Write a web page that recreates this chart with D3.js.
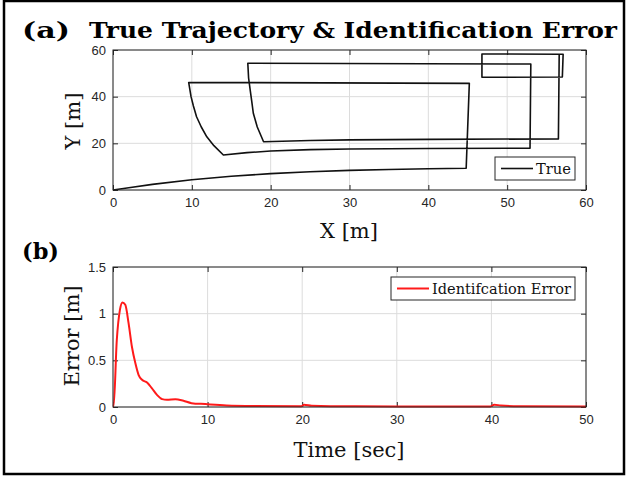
<!DOCTYPE html>
<html><head><meta charset="utf-8">
<script src="https://cdn.jsdelivr.net/npm/d3@7"></script>
<style>body{margin:0;background:#fff}svg{display:block}</style>
</head><body>
<script>
// ---- data ----
const trajX = [0,2,5,10,15,20,25,30,35,40,44.8, 45.2, 9.6, 9.9,10.2,10.6,11.2,11.9,12.8,14, 17,20,25,30,40,52.9, 53.0, 17.1,17.2,17.4,17.6,17.8,18.3,19.1, 25,30,40,56.5, 56.6, 46.8,46.8,57.0,57.1,56.6];
const trajY = [0,1,2.4,4.4,5.9,7.0,7.8,8.4,8.8,9.1,9.3, 45.7, 46.1, 40,36,31.4,27,22.8,19,15, 16.0,16.7,17.3,17.6,17.8,17.9, 54.0, 54.3,48,42.9,38,32.9,27,20.7, 21.2,21.5,21.7,21.9, 58.2, 58.3,48.3,48.4,58.2,58.2];
const errT = [0,0.06,0.4,0.74,1.0,1.3,1.65,2.0,2.36,2.7,3.07,3.6,4.1,4.65,5.2,5.7,6.6,7.45,8.3,9.76,12,15,19.9,20.2,21,23,30,39.9,40.3,41,43,50];
const errV = [0,0,0.71,1.04,1.115,1.09,0.89,0.64,0.465,0.34,0.286,0.257,0.197,0.125,0.079,0.072,0.079,0.061,0.036,0.026,0.012,0.005,0.002,0.02,0.008,0.003,0.001,0.001,0.02,0.01,0.003,0];
const xTicksA = [0,10,20,30,40,50,60];
const yTicksA = [0,20,40,60];
const xTicksB = [0,10,20,30,40,50];
const yTicksB = [0,0.5,1,1.5];
const yTickLabelsB = ["0","0.5","1","1.5"];

const W=627,H=477;
const svg=d3.select("body").append("svg").attr("width",W).attr("height",H);
svg.append("rect").attr("width",W).attr("height",H).attr("fill","#fff");
svg.append("rect").attr("x",4).attr("y",1).attr("width",620).attr("height",473)
  .attr("fill","none").attr("stroke","#000").attr("stroke-width",2.5);

const serif="'DejaVu Serif','Liberation Serif',serif";
const sans="'Liberation Sans',Arial,sans-serif";
const axCol="#262626";

svg.append("text").attr("x",22).attr("y",38).attr("font-family",serif).attr("font-weight","bold")
  .attr("font-size",23).attr("textLength",48).attr("lengthAdjust","spacingAndGlyphs").text("(a)");
svg.append("text").attr("x",89).attr("y",38).attr("font-family",serif).attr("font-weight","bold")
  .attr("font-size",23).attr("textLength",528).attr("lengthAdjust","spacingAndGlyphs")
  .text("True Trajectory & Identification Error");
svg.append("text").attr("x",22).attr("y",259).attr("font-family",serif).attr("font-weight","bold")
  .attr("font-size",23).attr("textLength",37).attr("lengthAdjust","spacingAndGlyphs").text("(b)");

function panel(x0,x1,y0,y1,xDom,yDom,xT,yT,yLab){
  const x=d3.scaleLinear().domain(xDom).range([x0,x1]);
  const y=d3.scaleLinear().domain(yDom).range([y1,y0]);
  const g=svg.append("g");
  g.append("rect").attr("x",x0).attr("y",y0).attr("width",x1-x0).attr("height",y1-y0).attr("fill","#fff");
  g.selectAll(null).data(xT).join("line").attr("x1",d=>x(d)).attr("x2",d=>x(d)).attr("y1",y0).attr("y2",y1)
    .attr("stroke","#dcdcdc").attr("stroke-width",1);
  g.selectAll(null).data(yT).join("line").attr("y1",d=>y(d)).attr("y2",d=>y(d)).attr("x1",x0).attr("x2",x1)
    .attr("stroke","#dcdcdc").attr("stroke-width",1);
  const ax=(gen,tr)=>{const a=g.append("g").attr("transform",tr).call(gen);
    a.select(".domain").remove();
    a.selectAll("line").attr("stroke",axCol);
    a.selectAll("text").attr("fill",axCol).attr("font-family",sans).attr("font-size",13);
    return a;};
  ax(d3.axisBottom(x).tickValues(xT).tickSizeInner(-5).tickSizeOuter(0).tickPadding(8).tickFormat(d3.format("")),`translate(0,${y1})`);
  ax(d3.axisTop(x).tickValues(xT).tickSizeInner(-5).tickSizeOuter(0).tickFormat(""),`translate(0,${y0})`);
  ax(d3.axisLeft(y).tickValues(yT).tickSizeInner(-5).tickSizeOuter(0).tickPadding(7).tickFormat((d,i)=>yLab?yLab[i]:d),`translate(${x0},0)`);
  ax(d3.axisRight(y).tickValues(yT).tickSizeInner(-5).tickSizeOuter(0).tickFormat(""),`translate(${x1},0)`);
  return {x,y,g};
}

// panel a
const A=panel(113,586,50,190,[0,60],[0,60],xTicksA,yTicksA);
const pts=trajX.map((v,i)=>[v,trajY[i]]);
A.g.append("path").attr("d",d3.line().x(d=>A.x(d[0])).y(d=>A.y(d[1]))(pts))
  .attr("fill","none").attr("stroke","#111").attr("stroke-width",1.6).attr("stroke-linejoin","round");
A.g.append("rect").attr("x",113).attr("y",50).attr("width",473).attr("height",140).attr("fill","none").attr("stroke",axCol).attr("stroke-width",1);
A.g.append("rect").attr("x",495).attr("y",157).attr("width",80).attr("height",23).attr("fill","#fff").attr("stroke",axCol).attr("stroke-width",1);
A.g.append("line").attr("x1",501).attr("x2",533).attr("y1",168.5).attr("y2",168.5).attr("stroke","#111").attr("stroke-width",1.6);
A.g.append("text").attr("x",536).attr("y",173.5).attr("font-family",serif).attr("font-size",14).attr("fill","#111")
  .attr("textLength",35).attr("lengthAdjust","spacingAndGlyphs").text("True");

svg.append("text").attr("x",349).attr("y",238).attr("text-anchor","middle").attr("font-family",serif).attr("font-size",21).attr("fill","#111").text("X [m]");
svg.append("text").attr("transform","translate(80,121) rotate(-90)").attr("text-anchor","middle").attr("font-family",serif).attr("font-size",21).attr("fill","#111").text("Y [m]");

// panel b
const B=panel(113,586,267,407,[0,50],[0,1.5],xTicksB,yTicksB,yTickLabelsB);
const ep=errT.map((t,i)=>[t,errV[i]]);
B.g.append("path").attr("d",d3.line().curve(d3.curveMonotoneX).x(d=>B.x(d[0])).y(d=>B.y(d[1])-0.5)(ep))
  .attr("fill","none").attr("stroke","#ff1a1a").attr("stroke-width",2);
B.g.append("rect").attr("x",113).attr("y",267).attr("width",473).attr("height",140).attr("fill","none").attr("stroke",axCol).attr("stroke-width",1);
B.g.append("rect").attr("x",391).attr("y",277).attr("width",184).attr("height",23).attr("fill","#fff").attr("stroke",axCol).attr("stroke-width",1);
B.g.append("line").attr("x1",397).attr("x2",429).attr("y1",288.5).attr("y2",288.5).attr("stroke","#ff1a1a").attr("stroke-width",2);
B.g.append("text").attr("x",432).attr("y",293.5).attr("font-family",serif).attr("font-size",14).attr("fill","#111")
  .attr("textLength",139).attr("lengthAdjust","spacingAndGlyphs").text("Identifcation Error");

svg.append("text").attr("x",349).attr("y",457).attr("text-anchor","middle").attr("font-family",serif).attr("font-size",21).attr("fill","#111").text("Time [sec]");
svg.append("text").attr("transform","translate(79,336) rotate(-90)").attr("text-anchor","middle").attr("font-family",serif).attr("font-size",21).attr("fill","#111").text("Error [m]");
</script>
</body></html>
